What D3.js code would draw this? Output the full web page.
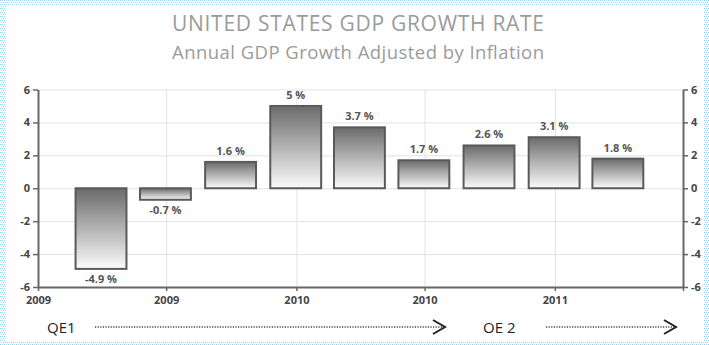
<!DOCTYPE html>
<html>
<head>
<meta charset="utf-8">
<script src="https://cdn.jsdelivr.net/npm/d3@7/dist/d3.min.js"></script>
<style>
  html, body { margin: 0; padding: 0; background: #fff; }
  svg { display: block; }
  text { font-family: "Open Sans", "Noto Sans", sans-serif; }
</style>
</head>
<body>
<div id="chart"></div>
<script>
// quarterly GDP growth, annualized (%)
const quarters = ['2009-03-31', '2009-06-30', '2009-09-30', '2009-12-31',
                  '2010-03-31', '2010-06-30', '2010-09-30', '2010-12-31', '2011-03-31'];
const growth = [-4.9, -0.7, 1.6, 5, 3.7, 1.7, 2.6, 3.1, 1.8];
const tickDates = ['2009-01-01', '2009-07-01', '2010-01-01', '2010-07-01', '2011-01-01', '2011-07-01'];
const tickLabels = ['2009', '2009', '2010', '2010', '2011', ''];
const yTicks = [-6, -4, -2, 0, 2, 4, 6];

const W = 709, H = 345;
const parse = d3.timeParse('%Y-%m-%d');

const svg = d3.select('#chart').append('svg')
    .attr('width', W)
    .attr('height', H);

// dotted light-blue frame
const defs = svg.append('defs');
const pat = defs.append('pattern')
    .attr('id', 'frame')
    .attr('width', 4).attr('height', 4)
    .attr('patternUnits', 'userSpaceOnUse');
pat.append('rect').attr('width', 4).attr('height', 4).attr('fill', '#fff');
pat.append('rect').attr('width', 1).attr('height', 1).attr('fill', '#8fd0ec');
pat.append('rect').attr('x', 2).attr('y', 0).attr('width', 1).attr('height', 1).attr('fill', '#b5e1f3');
pat.append('rect').attr('x', 1).attr('y', 2).attr('width', 1).attr('height', 1).attr('fill', '#a3d9f0');
pat.append('rect').attr('x', 3).attr('y', 2).attr('width', 1).attr('height', 1).attr('fill', '#8fd0ec');

const grad = defs.append('linearGradient')
    .attr('id', 'barGrad')
    .attr('x1', 0).attr('y1', 0).attr('x2', 0).attr('y2', 1);
grad.append('stop').attr('offset', '0%').attr('stop-color', '#6b6b6b');
grad.append('stop').attr('offset', '100%').attr('stop-color', '#fbfbfb');

svg.append('rect').attr('x', 0).attr('y', 0).attr('width', W).attr('height', 5).attr('fill', 'url(#frame)');
svg.append('rect').attr('x', 0).attr('y', 0).attr('width', 6).attr('height', H).attr('fill', 'url(#frame)');
svg.append('rect').attr('x', W - 5).attr('y', 0).attr('width', 5).attr('height', H).attr('fill', 'url(#frame)');
svg.append('rect').attr('x', 0).attr('y', H - 3).attr('width', W).attr('height', 3).attr('fill', 'url(#frame)');

// titles
svg.append('text')
    .attr('x', 358).attr('y', 31)
    .attr('text-anchor', 'middle')
    .attr('textLength', 372)
    .style('font-size', '21px')
    .style('fill', '#9b9b9b')
    .text('UNITED STATES GDP GROWTH RATE');

svg.append('text')
    .attr('x', 358).attr('y', 59)
    .attr('text-anchor', 'middle')
    .attr('textLength', 372)
    .style('font-size', '18.5px')
    .style('fill', '#9b9b9b')
    .text('Annual GDP Growth Adjusted by Inflation');

// scales
const x = d3.scaleTime()
    .domain([parse(tickDates[0]), parse(tickDates[tickDates.length - 1])])
    .range([38, 683]);

const y = d3.scaleLinear()
    .domain([-6, 6])
    .range([287, 89.5]);

const xTicks = tickDates.map(parse);

// grid
const grid = svg.append('g');
grid.selectAll('.hg')
    .data(yTicks.filter(d => d > -6))
    .join('line')
    .attr('x1', 38).attr('x2', 683)
    .attr('y1', d => y(d) + 0.5).attr('y2', d => y(d) + 0.5)
    .attr('stroke', '#e2e2e2');
grid.selectAll('.vg')
    .data(xTicks.slice(1, -1))
    .join('line')
    .attr('x1', d => x(d) + 0.5).attr('x2', d => x(d) + 0.5)
    .attr('y1', y(6)).attr('y2', y(-6))
    .attr('stroke', '#e2e2e2');

// bars
const data = quarters.map((q, i) => ({ date: parse(q), value: growth[i] }));
const qWidth = x(parse(quarters[1])) - x(parse(quarters[0]));
const barW = qWidth * 0.79;

svg.append('g').selectAll('rect')
    .data(data)
    .join('rect')
    .attr('x', d => x(d.date) - barW / 2)
    .attr('y', d => y(Math.max(0, d.value)))
    .attr('width', barW)
    .attr('height', d => Math.abs(y(d.value) - y(0)))
    .attr('fill', 'url(#barGrad)')
    .attr('stroke', '#5a5a5a')
    .attr('stroke-width', 2);

svg.append('g').selectAll('text')
    .data(data)
    .join('text')
    .attr('x', d => x(d.date))
    .attr('y', d => d.value >= 0 ? y(d.value) - 7 : y(d.value) + 14)
    .attr('text-anchor', 'middle')
    .style('font-size', '11px')
    .style('font-weight', 'bold')
    .style('fill', '#555')
    .text(d => d.value + ' %');

// axes
const axisStyle = g => {
    g.select('.domain').attr('stroke', '#666').attr('stroke-width', 2);
    g.selectAll('.tick line').attr('stroke', '#666').attr('stroke-width', 1.5);
    g.selectAll('.tick text')
        .style('font-size', '11px')
        .style('font-weight', 'bold')
        .style('fill', '#444');
};

svg.append('g')
    .attr('transform', 'translate(38,0)')
    .call(d3.axisLeft(y).tickValues(yTicks).tickSize(5).tickSizeOuter(0).tickPadding(3)
        .tickFormat(d => String(d)))
    .call(axisStyle);

svg.append('g')
    .attr('transform', 'translate(683,0)')
    .call(d3.axisRight(y).tickValues(yTicks).tickSize(5).tickSizeOuter(0).tickPadding(3)
        .tickFormat(d => String(d)))
    .call(axisStyle);

svg.append('g')
    .attr('transform', `translate(0,${y(-6)})`)
    .call(d3.axisBottom(x).tickValues(xTicks).tickSize(4).tickSizeOuter(0).tickPadding(5)
        .tickFormat((d, i) => tickLabels[i]))
    .call(axisStyle);

// QE timeline annotations
const qe = [
    { label: 'QE1', lx: 47, x1: 95, x2: 445 },
    { label: 'OE 2', lx: 483, x1: 546, x2: 676 }
];
const qy = 327;
const qg = svg.append('g');
qg.selectAll('text')
    .data(qe)
    .join('text')
    .attr('x', d => d.lx).attr('y', qy + 6)
    .style('font-size', '15px')
    .style('fill', '#222')
    .text(d => d.label);
qg.selectAll('.dots')
    .data(qe)
    .join('line')
    .attr('x1', d => d.x1).attr('x2', d => d.x2 - 2)
    .attr('y1', qy).attr('y2', qy)
    .attr('stroke', '#444')
    .attr('stroke-width', 1.6)
    .attr('stroke-dasharray', '1.2,1.4');
qg.selectAll('.head')
    .data(qe)
    .join('path')
    .attr('d', d => `M${d.x2 - 12},${qy - 7}L${d.x2},${qy}L${d.x2 - 12},${qy + 7}`)
    .attr('fill', 'none')
    .attr('stroke', '#222')
    .attr('stroke-width', 2);
</script>
</body>
</html>
